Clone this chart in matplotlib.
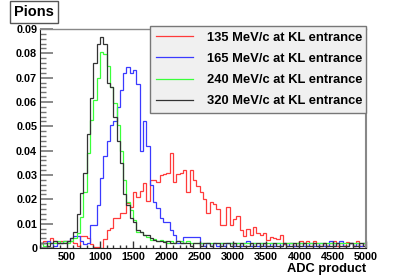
import numpy as np
import matplotlib
matplotlib.use("Agg")
import matplotlib.pyplot as plt
from matplotlib.ticker import MultipleLocator, FuncFormatter

plt.rcParams['font.family'] = ['Liberation Sans', 'DejaVu Sans']
plt.rcParams['font.weight'] = 'bold'

# bin edges: 100 .. 5000, width 50
bin_start = 100
bin_width = 50
n_bins = 98

labels = ["135 MeV/c at KL entrance", "165 MeV/c at KL entrance",
          "240 MeV/c at KL entrance", "320 MeV/c at KL entrance"]

red_135 = [
    0.002, 0.003, 0.002, 0.004, 0.003, 0.002, 0.003, 0.003, 0.003, 0.003,   # 100-550
    0.002, 0.001, 0.005, 0.005, 0.004, 0.0015, 0.0005, 0.0005, 0.0, 0.0035,  # 600-1050
    0.0075, 0.0082, 0.0123, 0.0123, 0.0143, 0.0143, 0.0184, 0.017, 0.023, 0.021,  # 1100-1550
    0.0235, 0.0266, 0.0195, 0.028, 0.028, 0.027, 0.030, 0.0305, 0.031, 0.039,  # 1600-2050
    0.027, 0.0305, 0.031, 0.032, 0.023, 0.032, 0.028, 0.0255, 0.023, 0.020,  # 2100-2550
    0.0143, 0.019, 0.018, 0.016, 0.0095, 0.0095, 0.0168, 0.0095, 0.012, 0.013,  # 2600-3050
    0.0074, 0.005, 0.008, 0.0053, 0.0088, 0.006, 0.0053, 0.006, 0.0033, 0.0045,  # 3100-3550
    0.004, 0.0035, 0.0055, 0.0016, 0.002, 0.002, 0.001, 0.002, 0.003, 0.002,  # 3600-4050
    0.003, 0.001, 0.003, 0.002, 0.001, 0.002, 0.001, 0.002, 0.003, 0.001,  # 4100-4550
    0.002, 0.001, 0.0025, 0.002, 0.001, 0.003, 0.001, 0.002,  # 4600-4950
]

blue_165 = [
    0.002, 0.002, 0.003, 0.002, 0.001, 0.002, 0.002, 0.003, 0.003, 0.004,  # 100-550
    0.005, 0.005, 0.003, 0.0015, 0.002, 0.0094, 0.0094, 0.0177, 0.0287, 0.038,  # 600-1050
    0.044, 0.0505, 0.052, 0.058, 0.065, 0.072, 0.0742, 0.072, 0.073, 0.0674,  # 1100-1550
    0.040, 0.052, 0.042, 0.026, 0.019, 0.0164, 0.0123, 0.0108, 0.0108, 0.0074,  # 1600-2050
    0.0053, 0.002, 0.002, 0.0047, 0.0044, 0.0044, 0.0044, 0.0044, 0.002, 0.001,  # 2100-2550
    0.002, 0.001, 0.002, 0.001, 0.002, 0.001, 0.002, 0.002, 0.001, 0.002,  # 2600-3050
    0.001, 0.002, 0.003, 0.001, 0.002, 0.001, 0.002, 0.001, 0.001, 0.002,  # 3100-3550
    0.001, 0.002, 0.001, 0.002, 0.001, 0.002, 0.001, 0.001, 0.002, 0.001,  # 3600-4050
    0.001, 0.002, 0.001, 0.001, 0.002, 0.001, 0.001, 0.003, 0.001, 0.002,  # 4100-4550
    0.003, 0.001, 0.001, 0.002, 0.001, 0.002, 0.001, 0.002,  # 4600-4950
]

green_240 = [
    0.002, 0.001, 0.002, 0.002, 0.002, 0.003, 0.002, 0.003, 0.002, 0.003,  # 100-550
    0.004, 0.006, 0.0129, 0.023, 0.039, 0.0526, 0.061, 0.070, 0.0807, 0.0797,  # 600-1050
    0.075, 0.066, 0.0595, 0.0505, 0.040, 0.028, 0.019, 0.0156, 0.0115, 0.0067,  # 1100-1550
    0.0067, 0.0055, 0.0045, 0.0033, 0.0035, 0.003, 0.0033, 0.003, 0.002, 0.003,  # 1600-2050
    0.002, 0.003, 0.003, 0.002, 0.003, 0.002, 0.002, 0.002, 0.002, 0.002,  # 2100-2550
    0.002, 0.002, 0.002, 0.002, 0.002, 0.002, 0.002, 0.002, 0.002, 0.002,  # 2600-3050
    0.002, 0.002, 0.002, 0.002, 0.002, 0.002, 0.002, 0.002, 0.002, 0.002,  # 3100-3550
    0.002, 0.002, 0.002, 0.002, 0.002, 0.002, 0.002, 0.002, 0.002, 0.002,  # 3600-4050
    0.002, 0.002, 0.002, 0.002, 0.002, 0.002, 0.002, 0.002, 0.002, 0.002,  # 4100-4550
    0.002, 0.002, 0.002, 0.002, 0.002, 0.002, 0.002, 0.002,  # 4600-4950
]

black_320 = [
    0.002, 0.002, 0.001, 0.002, 0.003, 0.002, 0.002, 0.002, 0.003, 0.004,  # 100-550
    0.0067, 0.014, 0.0225, 0.031, 0.047, 0.0615, 0.076, 0.084, 0.0866, 0.084,  # 600-1050
    0.068, 0.066, 0.054, 0.044, 0.035, 0.022, 0.0177, 0.0123, 0.0105, 0.0075,  # 1100-1550
    0.0066, 0.0055, 0.0055, 0.004, 0.0033, 0.003, 0.003, 0.0025, 0.003, 0.002,  # 1600-2050
    0.002, 0.003, 0.002, 0.002, 0.002, 0.001, 0.002, 0.002, 0.001, 0.002,  # 2100-2550
    0.002, 0.001, 0.002, 0.002, 0.001, 0.002, 0.002, 0.001, 0.002, 0.001,  # 2600-3050
    0.002, 0.001, 0.001, 0.002, 0.001, 0.002, 0.001, 0.002, 0.001, 0.001,  # 3100-3550
    0.002, 0.001, 0.001, 0.002, 0.001, 0.001, 0.002, 0.001, 0.001, 0.002,  # 3600-4050
    0.001, 0.001, 0.002, 0.001, 0.001, 0.002, 0.001, 0.001, 0.001, 0.002,  # 4100-4550
    0.001, 0.001, 0.001, 0.002, 0.001, 0.001, 0.002, 0.001,  # 4600-4950
]

series = [red_135, blue_165, green_240, black_320]
colors = ['#ff3a3a', '#3a3aff', '#3aff3a', '#333333']

edges = bin_start + bin_width * np.arange(n_bins + 1)

fig = plt.figure(figsize=(4.07, 2.76), dpi=100)
ax = fig.add_axes([40/407, 1 - 248/276, 326/407, (248 - 29)/276])

handles = []
for vals, c, lab in zip(series, colors, labels):
    h = ax.stairs(vals, edges, color=c, lw=0.9, label=lab)
    handles.append(h)

ax.set_xlim(100, 5000)
ax.set_ylim(0, 0.09)

ax.xaxis.set_major_locator(MultipleLocator(500))
ax.xaxis.set_minor_locator(MultipleLocator(100))
ax.yaxis.set_major_locator(MultipleLocator(0.01))
ax.yaxis.set_minor_locator(MultipleLocator(0.002))

def yfmt(v, pos):
    if abs(v) < 1e-9:
        return "0"
    return f"{v:.2f}"
ax.yaxis.set_major_formatter(FuncFormatter(yfmt))
ax.xaxis.set_major_formatter(FuncFormatter(lambda v, p: f"{int(round(v))}"))

ax.tick_params(axis='y', which='major', direction='in', length=9, width=1.2,
               color='#777777', labelsize=7.8, pad=2)
ax.tick_params(axis='y', which='minor', direction='in', length=4.5, width=1,
               color='#777777')
ax.tick_params(axis='x', which='major', direction='in', length=5, width=1,
               color='#333333', labelsize=7.8, pad=3)
ax.tick_params(axis='x', which='minor', direction='in', length=2.5, width=1,
               color='#333333')
for lab in ax.get_xticklabels() + ax.get_yticklabels():
    lab.set_fontweight('bold')

ax.spines['left'].set_color('#222222')
ax.spines['bottom'].set_color('#222222')
ax.spines['top'].set_color('#888888')
ax.spines['right'].set_color('#888888')
ax.spines['right'].set_linewidth(1.5)
ax.spines['top'].set_linewidth(1.0)

ax.set_xlabel("ADC product", fontsize=9.3, fontweight='bold', loc='right', labelpad=0.5)

leg = fig.legend(handles=[plt.Line2D([], [], color=c, lw=0.9) for c in colors],
                 labels=labels, loc='upper left',
                 bbox_to_anchor=(150/407, 1 - 109/276, 216/407, 83/276),
                 mode='expand', fontsize=9.3, frameon=True, fancybox=False,
                 facecolor='#f0f0f0', edgecolor='#777777', framealpha=1,
                 handlelength=2.9, handletextpad=1.1, labelspacing=0.7,
                 borderpad=0.45, borderaxespad=0)
leg.get_frame().set_linewidth(1.0)
for t in leg.get_texts():
    t.set_fontweight('bold')

fig.text(34/407, 1 - 12/276, "Pions", fontsize=10.5, fontweight='bold',
         ha='center', va='center',
         bbox=dict(boxstyle='square,pad=0.25', facecolor='white',
                   edgecolor='#555555', linewidth=1.0))

fig.savefig("out.png", dpi=100)
